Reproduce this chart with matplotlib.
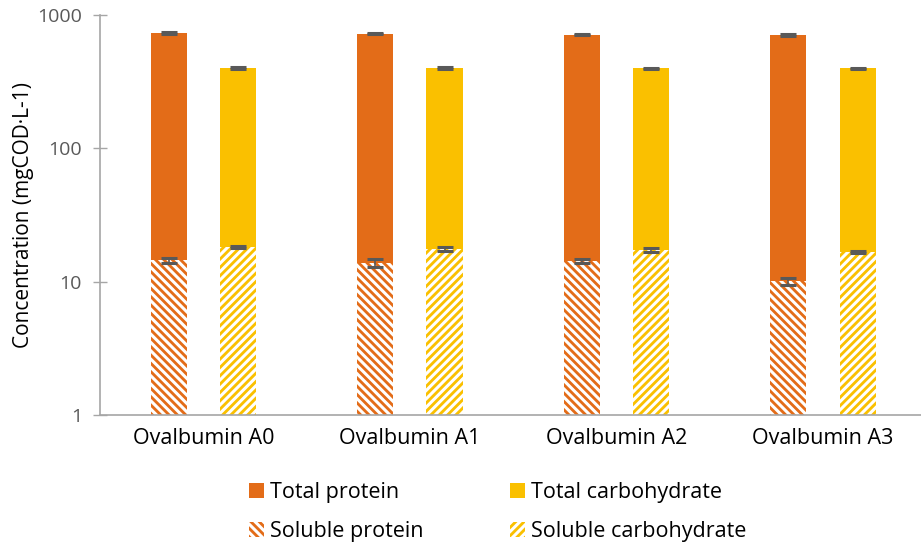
import matplotlib
matplotlib.use("Agg")
from matplotlib import pyplot as plt
from matplotlib.patches import Patch
import numpy as np

# Concentrations (mgCOD/L) per ovalbumin sample
samples = ['Ovalbumin A0', 'Ovalbumin A1', 'Ovalbumin A2', 'Ovalbumin A3']
total_protein = [733, 725, 712, 705]
total_protein_err = [12, 10, 10, 10]
total_carb = [400, 400, 398, 398]
total_carb_err = [5, 5, 5, 5]
soluble_protein = [14.5, 13.8, 14.2, 10.1]
soluble_protein_err = [0.6, 0.9, 0.5, 0.6]
soluble_carb = [18.2, 17.5, 17.3, 16.8]
soluble_carb_err = [0.4, 0.6, 0.6, 0.3]

orange = '#E36C18'
yellow = '#FAC000'
err_col = '#595959'
axis_col = '#A6A6A6'

plt.rcParams['font.family'] = ['Open Sans', 'DejaVu Sans']
plt.rcParams['hatch.linewidth'] = 2.2
plt.rcParams['hatch.color'] = 'white'

fig = plt.figure(figsize=(9.21, 5.47), dpi=100)
ax = fig.add_axes([0.1086, 0.2413, 0.897, 0.7313])

x = np.arange(len(samples))
w = 0.175
off = 0.168
ekw = dict(ecolor=err_col, elinewidth=1.2, capsize=5.5, capthick=2.2)

ax.bar(x - off, total_protein, w, color=orange, yerr=total_protein_err, error_kw=ekw)
ax.bar(x + off, total_carb, w, color=yellow, yerr=total_carb_err, error_kw=ekw)
ax.bar(x - off, soluble_protein, w, color=orange, edgecolor='white', linewidth=0,
       hatch='\\\\\\\\', yerr=soluble_protein_err, error_kw=ekw)
ax.bar(x + off, soluble_carb, w, color=yellow, edgecolor='white', linewidth=0,
       hatch='////', yerr=soluble_carb_err, error_kw=ekw)

ax.set_yscale('log')
ax.set_ylim(1, 1000)
ax.set_xlim(-0.5, 3.5)
ax.set_yticks([1, 10, 100, 1000])
ax.set_yticklabels(['1', '10', '100', '1000'])
ax.yaxis.set_minor_locator(matplotlib.ticker.NullLocator())
ax.set_xticks(x)
ax.set_xticklabels(samples, fontsize=15.5, color='black')
ax.tick_params(axis='x', length=0, pad=9)
ax.tick_params(axis='y', direction='inout', length=10, width=1, color=axis_col,
               labelsize=14, labelcolor='#595959', pad=8)
ax.set_ylabel('Concentration (mgCOD·L-1)', fontsize=15, labelpad=2)

for s in ['top', 'right']:
    ax.spines[s].set_visible(False)
for s in ['left', 'bottom']:
    ax.spines[s].set_color(axis_col)
    ax.spines[s].set_linewidth(1.2)

handles = [
    Patch(facecolor=orange, label='Total protein'),
    Patch(facecolor=orange, edgecolor='white', linewidth=0, hatch='\\\\\\\\', label='Soluble protein'),
    Patch(facecolor=yellow, label='Total carbohydrate'),
    Patch(facecolor=yellow, edgecolor='white', linewidth=0, hatch='////', label='Soluble carbohydrate'),
]
fig.legend(handles=handles, loc='lower left', bbox_to_anchor=(0.249, -0.027), ncol=2,
           frameon=False, fontsize=15.5, handlelength=0.7, handleheight=0.7,
           handletextpad=0.3, columnspacing=4.0, labelspacing=0.85)

fig.savefig('out.png', dpi=100)
